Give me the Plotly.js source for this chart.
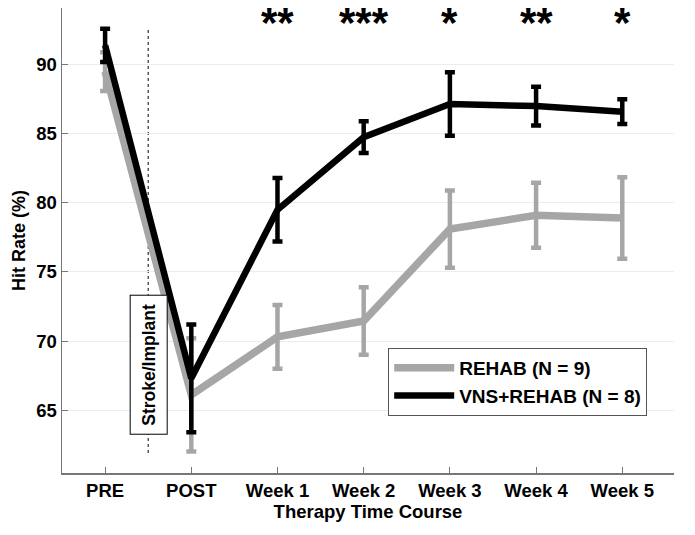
<!DOCTYPE html>
<html><head><meta charset="utf-8">
<script src="https://cdn.plot.ly/plotly-3.0.1.min.js"></script>
<style>body{margin:0;background:#fff}#c{width:695px;height:535px}</style>
</head><body><div id="c"></div>
<script>
const categories = ["PRE","POST","Week 1","Week 2","Week 3","Week 4","Week 5"];
const rehabMean  = [89.5, 66.1, 70.3, 71.45, 78.1, 79.1, 78.9];
const rehabErr   = [1.4, 4.1, 2.3, 2.45, 2.8, 2.35, 2.95];
const vnsMean    = [91.4, 67.3, 79.5, 84.75, 87.15, 87.0, 86.6];
const vnsErr     = [1.2, 3.9, 2.3, 1.15, 2.3, 1.4, 0.9];
const sigStars   = ["", "", "**", "***", "*", "**", "*"];
const seriesNames = ["REHAB (N = 9)", "VNS+REHAB (N = 8)"];

const xi = categories.map((c,i)=>i);
const font = {family:"Liberation Sans, Arial, sans-serif", color:"#000"};

const traces = [
  {x:xi, y:rehabMean, name:seriesNames[0], mode:"lines", type:"scatter",
   line:{color:"#a6a6a6", width:7.5},
   error_y:{type:"data", array:rehabErr, visible:true, color:"#a6a6a6", thickness:4.5, width:5}},
  {x:xi, y:vnsMean, name:seriesNames[1], mode:"lines", type:"scatter",
   line:{color:"#000", width:6.5},
   error_y:{type:"data", array:vnsErr, visible:true, color:"#000", thickness:4.5, width:5}}
];

const annotations = sigStars.map((s,i)=>({
  x:i, y:93.05, xref:"x", yref:"y", text:s, showarrow:false,
  font:{...font, size:42, weight:"bold"}, yanchor:"middle"
})).filter(a=>a.text!=="");

annotations.push({
  x:0.5, y:68.3, xref:"x", yref:"y", text:"<b>Stroke/Implant</b>", textangle:-90,
  showarrow:false, bgcolor:"#fff", bordercolor:"#000", borderwidth:1,
  borderpad:8, font:{...font, size:17.5}
});

const layout = {
  width:695, height:535,
  margin:{l:62, r:21, t:8, b:62},
  paper_bgcolor:"#fff", plot_bgcolor:"#fff",
  font:font,
  showlegend:true,
  legend:{x:0.533, y:0.269, xanchor:"left", yanchor:"top", bgcolor:"#fff",
          bordercolor:"#555", borderwidth:1, itemwidth:60,
          font:{...font, size:19, weight:"bold"}, tracegroupgap:0},
  xaxis:{range:[-0.5,6.6], tickvals:xi, ticktext:categories,
         showline:true, linecolor:"#777", linewidth:1.5, mirror:false,
         ticks:"inside", ticklen:6, tickcolor:"#777", showgrid:false, zeroline:false,
         tickfont:{...font, size:18.5, weight:"bold"},
         title:{text:"Therapy Time Course", font:{...font, size:18.5, weight:"bold"}, standoff:0}},
  yaxis:{range:[60.45,94.1], tickvals:[65,70,75,80,85,90],
         showline:true, linecolor:"#777", linewidth:1.5,
         ticks:"inside", ticklen:6, tickcolor:"#777",
         showgrid:true, gridcolor:"#ececec", gridwidth:1, zeroline:false,
         tickfont:{...font, size:18.5, weight:"bold"},
         title:{text:"Hit Rate (%)", font:{...font, size:18, weight:"bold"}, standoff:6}},
  shapes:[{type:"line", xref:"x", yref:"y", x0:0.5, x1:0.5, y0:61.9, y1:92.7,
           line:{color:"#000", width:1, dash:"dot"}, layer:"below"}],
  annotations:annotations
};

Plotly.newPlot("c", traces, layout, {displayModeBar:false, staticPlot:true});
</script></body></html>
